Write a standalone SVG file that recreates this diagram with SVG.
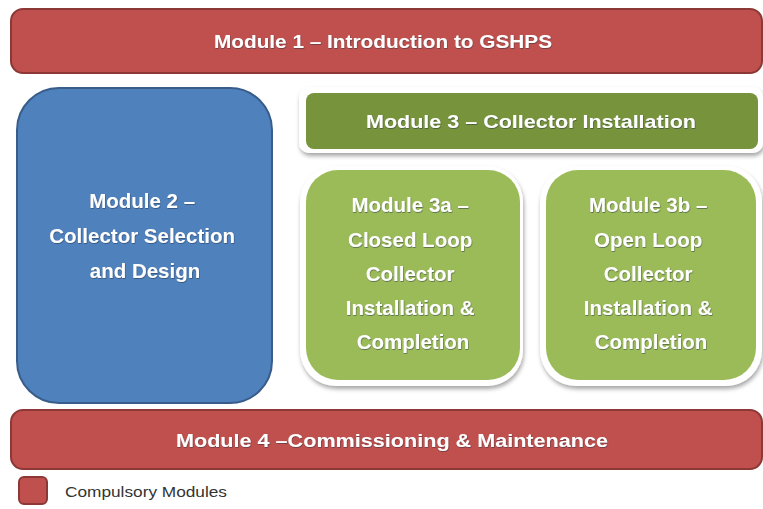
<svg xmlns="http://www.w3.org/2000/svg" width="763" height="509" viewBox="0 0 763 509">
<defs>
<filter id="sh" x="-10%" y="-10%" width="125%" height="130%">
<feDropShadow dx="1" dy="3" stdDeviation="2" flood-color="#000" flood-opacity="0.35"/>
</filter>
<filter id="ts" x="-5%" y="-20%" width="110%" height="140%">
<feDropShadow dx="0.5" dy="0.8" stdDeviation="0.6" flood-color="#1a2a40" flood-opacity="0.6"/>
</filter>
<style>
.red{fill:#C0504D;stroke:#8C3836;stroke-width:2}
.blue{fill:#4F81BD;stroke:#385D8A;stroke-width:2}
.frame{fill:#fff;filter:url(#sh)}
.dg{fill:#77933C}
.lg{fill:#9BBB59}
.t{font-family:"Liberation Sans",Arial,sans-serif;font-weight:bold;fill:#fff;text-anchor:middle;filter:url(#ts)}
.leg{font-family:"Liberation Sans",Arial,sans-serif;font-size:14px;fill:#333}
</style>
</defs>
<rect width="763" height="509" fill="#fff"/>
<g id="module1">
<rect class="red" x="11" y="9" width="751" height="64" rx="12"/>
<text class="t" x="383" y="48" font-size="18" textLength="338" lengthAdjust="spacingAndGlyphs">Module 1 – Introduction to GSHPS</text>
</g>
<g id="module2">
<rect class="blue" x="17" y="88" width="255" height="315" rx="42"/>
<text class="t" font-size="20.5">
<tspan x="145" y="208">Module 2 –</tspan>
<tspan x="145" y="243">Collector Selection</tspan>
<tspan x="145" y="278">and Design</tspan>
</text>
</g>
<g id="module3">
<rect class="frame" x="299" y="87" width="464" height="66" rx="10"/>
<rect class="dg" x="306" y="93" width="452" height="56" rx="8"/>
<text class="t" x="531" y="128" font-size="19" textLength="330" lengthAdjust="spacingAndGlyphs">Module 3 – Collector Installation</text>
</g>
<g id="module3a">
<rect class="frame" x="300" y="166" width="223" height="220" rx="36"/>
<rect class="lg" x="306" y="170" width="214" height="210" rx="32"/>
<text class="t" font-size="20.5">
<tspan x="413" y="212">Module 3a –</tspan>
<tspan x="413" y="247">Closed Loop</tspan>
<tspan x="413" y="281">Collector</tspan>
<tspan x="413" y="315">Installation &amp;</tspan>
<tspan x="413" y="349">Completion</tspan>
</text>
</g>
<g id="module3b">
<rect class="frame" x="540" y="166" width="222" height="220" rx="36"/>
<rect class="lg" x="546" y="170" width="210" height="210" rx="32"/>
<text class="t" font-size="20.5">
<tspan x="651" y="212">Module 3b –</tspan>
<tspan x="651" y="247">Open Loop</tspan>
<tspan x="651" y="281">Collector</tspan>
<tspan x="651" y="315">Installation &amp;</tspan>
<tspan x="651" y="349">Completion</tspan>
</text>
</g>
<g id="module4">
<rect class="red" x="11" y="410" width="751" height="59" rx="12"/>
<text class="t" x="392" y="447" font-size="18" textLength="432" lengthAdjust="spacingAndGlyphs">Module 4 –Commissioning &amp; Maintenance</text>
</g>
<g id="legend">
<rect class="red" x="19" y="477" width="28" height="27" rx="5"/>
<text class="leg" x="65" y="497" textLength="162" lengthAdjust="spacingAndGlyphs">Compulsory Modules</text>
</g>
<g id="connectors"/>
</svg>
